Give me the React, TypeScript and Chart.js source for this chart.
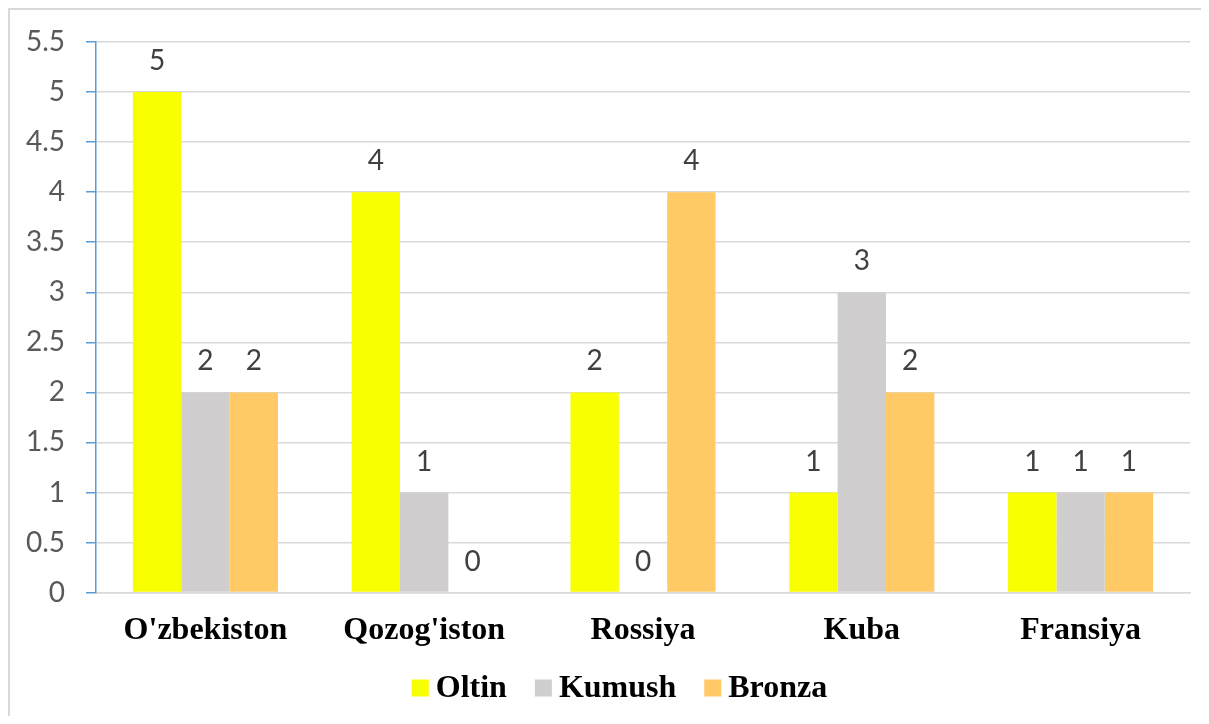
import React, { useEffect, useRef } from "react";
import { Chart, registerables } from "chart.js";

Chart.register(...registerables);

const categories = ["O'zbekiston", "Qozog'iston", "Rossiya", "Kuba", "Fransiya"];
const oltin = [5, 4, 2, 1, 1];
const kumush = [2, 1, 0, 3, 1];
const bronza = [2, 0, 4, 2, 1];
const seriesNames = ["Oltin", "Kumush", "Bronza"];
const seriesColors = ["#F7FF00", "#D0CECE", "#FFCA66"];

const SANS = "Lato, 'Noto Sans', sans-serif";
const SERIF = "'Liberation Serif', 'Times New Roman', serif";

const valueLabels = {
  id: "valueLabels",
  afterDatasetsDraw(chart: any) {
    const ctx = chart.ctx;
    ctx.save();
    ctx.font = `28px ${SANS}`;
    ctx.fillStyle = "#404040";
    ctx.textAlign = "center";
    ctx.textBaseline = "middle";
    chart.data.datasets.forEach((ds: any, i: number) => {
      const meta = chart.getDatasetMeta(i);
      meta.data.forEach((bar: any, j: number) => {
        ctx.fillText(String(ds.data[j]), bar.x, bar.y - 31);
      });
    });
    ctx.restore();
  },
};

const customLegend = {
  id: "customLegend",
  afterDraw(chart: any) {
    const ctx = chart.ctx;
    const box = 17;
    const gapText = 7;
    const gapItem = 28;
    ctx.save();
    ctx.font = `bold 32px ${SERIF}`;
    const items = chart.data.datasets.map((ds: any) => ({
      label: ds.label,
      color: ds.backgroundColor,
      w: ctx.measureText(ds.label).width,
    }));
    const total =
      items.reduce((s: number, it: any) => s + box + gapText + it.w, 0) + gapItem * (items.length - 1);
    const centerX = chart.width / 2 + 14;
    const cy = chart.height - 28;
    let x = centerX - total / 2;
    ctx.textBaseline = "middle";
    ctx.textAlign = "left";
    items.forEach((it: any) => {
      ctx.fillStyle = it.color;
      ctx.fillRect(x, cy - box / 2, box, box);
      x += box + gapText;
      ctx.fillStyle = "#000";
      ctx.fillText(it.label, x, cy + 1);
      x += it.w + gapItem;
    });
    ctx.restore();
  },
};

export default function App() {
  const ref = useRef<HTMLCanvasElement>(null);
  useEffect(() => {
    if (!ref.current) return;
    const data = [oltin, kumush, bronza];
    const chart = new Chart(ref.current, {
      type: "bar",
      data: {
        labels: categories,
        datasets: seriesNames.map((n, i) => ({
          label: n,
          data: data[i],
          backgroundColor: seriesColors[i],
          borderWidth: 0,
          categoryPercentage: 0.663,
          barPercentage: 1,
        })),
      },
      options: {
        responsive: false,
        animation: false,
        layout: { padding: { top: 32, right: 11, bottom: 47, left: 0 } },
        plugins: {
          tooltip: { enabled: false },
          legend: { display: false },
        },
        scales: {
          x: {
            grid: { display: false, drawTicks: false },
            border: { color: "#D9D9D9", width: 1.5 },
            ticks: {
              padding: 19,
              color: "#000",
              font: { family: SERIF, size: 32, weight: "bold" },
            },
          },
          y: {
            min: 0,
            max: 5.5,
            afterFit: (scale: any) => {
              scale.width = 86;
              scale.paddingTop = 0;
            },
            ticks: {
              stepSize: 0.5,
              padding: 21,
              color: "#595959",
              font: { family: SANS, size: 28 },
              callback: (v: any) => String(v),
            },
            grid: {
              color: "#D9D9D9",
              lineWidth: 1.5,
              tickLength: 10,
              tickColor: "#5B9BD5",
              tickWidth: 1.5,
            },
            border: { color: "#5B9BD5", width: 1.5 },
          },
        },
      },
      plugins: [valueLabels, customLegend],
    });
    return () => chart.destroy();
  }, []);
  return (
    <div
      style={{
        width: 1191,
        height: 706,
        borderTop: "2px solid #D9D9D9",
        borderLeft: "2px solid #D9D9D9",
        background: "#fff",
      }}
    >
      <canvas ref={ref} width={1191} height={706} style={{ display: "block" }} />
    </div>
  );
}
